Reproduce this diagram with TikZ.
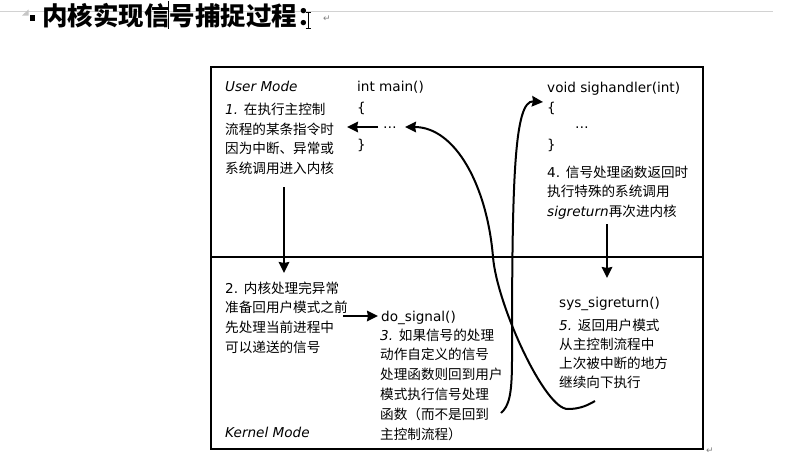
\documentclass[tikz,border=0pt]{standalone}
\usepackage{fontspec}
\setmainfont{DejaVu Sans}
\newfontfamily\cjk{Noto Sans CJK SC}
\usetikzlibrary{arrows.meta}
\begin{document}
\begin{tikzpicture}[x=1pt,y=-1pt,
  txt/.style={anchor=base west,inner sep=0pt,font=\fontsize{13.6}{16}\selectfont},
  arr/.style={line width=2pt,-{Stealth[length=11pt,width=10.5pt,inset=1pt]}},
  frame/.style={line width=2.6pt},
  retmark/.style={anchor=base west,inner sep=0pt,text=gray,font=\fontsize{9}{9}\selectfont}]
\useasboundingbox (0,0) rectangle (804,458);
\fill[white] (0,0) rectangle (804,458);

% page decorations
\draw[gray!35,line width=0.8pt] (0,11) -- (773,11);
\fill[gray!45] (22,15.5) -- (28.5,15.5) -- (28.5,9.5) -- cycle;
\fill[black] (30,15) rectangle (35,20.5);
\node[anchor=base west,inner sep=0pt,font={\fontsize{25.5}{28}\selectfont\cjk\bfseries}] (title) at (42,25) {内核实现信号捕捉过程：};
\draw[line width=0.9pt] (168,1) -- (168,29);
\draw[line width=0.8pt] (308,12) -- (308,28) (305.5,12) -- (310.5,12) (305.5,28) -- (310.5,28);
\node[retmark] (ret1) at (323,21) {↵};
\node[retmark] (ret2) at (706,453) {↵};

% frame
\draw[frame] (211,67) rectangle (703,449);
\draw[frame] (211,257) -- (703,257);

% user mode, left
\node[txt] (um) at (225,91) {\textit{User Mode}};
\foreach \s [count=\i] in {{\textit{1.} \cjk 在执行主控制},{\cjk 流程的某条指令时},{\cjk 因为中断、异常或},{\cjk 系统调用进入内核}}
  \node[txt] (s1-\i) at (225,{114.5+19.5*(\i-1)}) {\s};

% main
\node[txt] (main) at (357,91) {int main()};
\node[txt] (mainl) at (357,112) {\{};
\node[txt] (maind) at (383,128.5) {…};
\node[txt] (mainr) at (357,149) {\}};

% handler
\node[txt] (hand) at (547,92) {void sighandler(int)};
\node[txt] (handl) at (547,112) {\{};
\node[txt] (handd) at (575,128.5) {…};
\node[txt] (handr) at (547,149) {\}};
\foreach \s [count=\i] in {{4. \cjk 信号处理函数返回时},{\cjk 执行特殊的系统调用},{\textit{sigreturn}{\cjk 再次进内核}}}
  \node[txt] (s4-\i) at (547,{177+19.5*(\i-1)}) {\s};

% kernel mode
\foreach \s [count=\i] in {{2. \cjk 内核处理完异常},{\cjk 准备回用户模式之前},{\cjk 先处理当前进程中},{\cjk 可以递送的信号}}
  \node[txt] (s2-\i) at (225,{293+19.7*(\i-1)}) {\s};
\node[txt] (dosig) at (381,321) {do\_signal()};
\foreach \s [count=\i] in {{\textit{3.} \cjk 如果信号的处理},{\cjk 动作自定义的信号},{\cjk 处理函数则回到用户},{\cjk 模式执行信号处理},{\cjk 函数（而不是回到},{\cjk 主控制流程）}}
  \node[txt] (s3-\i) at (380,{340+19.9*(\i-1)}) {\s};
\node[txt] (km) at (225,437) {\textit{Kernel Mode}};
\node[txt] (sysret) at (559,307) {sys\_sigreturn()};
\foreach \s [count=\i] in {{\textit{5.} \cjk 返回用户模式},{\cjk 从主控制流程中},{\cjk 上次被中断的地方},{\cjk 继续向下执行}}
  \node[txt] (s5-\i) at (559,{330+19.3*(\i-1)}) {\s};

% connectors
\coordinate (a1s) at (284,187); \coordinate (a1e) at (284,273);
\coordinate (a2s) at (378,127); \coordinate (a2e) at (347,127);
\coordinate (a3s) at (343,316); \coordinate (a3e) at (378,316);
\coordinate (a4s) at (607,224); \coordinate (a4e) at (607,278);
\draw[arr] (a1s) -- (a1e);
\draw[arr] (a2s) -- (a2e);
\draw[arr] (a3s) -- (a3e);
\draw[arr] (a4s) -- (a4e);

\coordinate (c1s) at (501,413); \coordinate (c1e) at (543,102);
\draw[arr] (c1s) .. controls (509,406) and (512,395) .. (512,360)
  .. controls (512,180) and (514,100) .. (c1e);
\coordinate (c2s) at (595,401); \coordinate (c2e) at (405,127);
\draw[arr] (c2s) .. controls (585,407) and (577,409) .. (568,409)
  .. controls (545,410) and (497,305) .. (493,257)
  .. controls (487,185) and (455,127) .. (c2e);
\end{tikzpicture}
\end{document}
